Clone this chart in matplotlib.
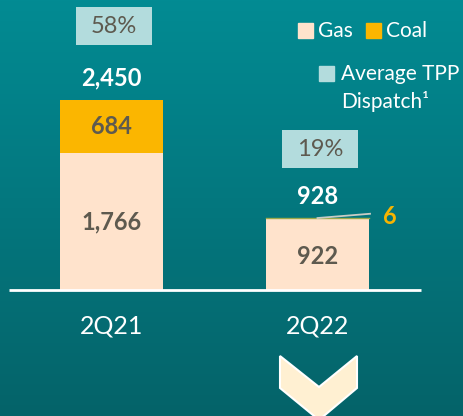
import numpy as np
import matplotlib.pyplot as plt
from matplotlib.patches import Rectangle, Polygon

# data
quarters = ["2Q21", "2Q22"]
gas = [1766, 922]
coal = [684, 6]
totals = [2450, 928]
dispatch = ["58%", "19%"]

GAS_COLOR = "#FFE3CC"
COAL_COLOR = "#FBB600"
BOX_COLOR = "#B3DCDD"
DARK_TEXT = "#5E5A4F"
W, H = 464, 416

plt.rcParams['font.family'] = ['Lato', 'DejaVu Sans']

fig = plt.figure(figsize=(W / 100, H / 100), dpi=100)

# background gradient
bg = fig.add_axes([0, 0, 1, 1])
top = np.array([0x02, 0x8B, 0x93]) / 255
bottom = np.array([0x05, 0x63, 0x69]) / 255
t = np.linspace(0, 1, 256)[:, None]
grad = top * (1 - t) + bottom * t
bg.imshow(grad[:, None, :], aspect='auto', extent=[0, 1, 0, 1])
bg.set_axis_off()

# main axes: value scale so that 2,450 spans 190 px
units_per_px = 2450 / 190
ax = fig.add_axes([0, 0, 1, 1])
ax.patch.set_alpha(0)
ax.set_xlim(-111.5 / 206, (W - 111.5) / 206)
ax.set_ylim(-(H - 290) * units_per_px, 290 * units_per_px)
ax.set_axis_off()

x = np.arange(len(quarters))
ax.bar(x, gas, width=0.5, color=GAS_COLOR, zorder=2)
ax.bar(x, coal, bottom=gas, width=0.5, color=COAL_COLOR, zorder=2)
ax.plot([0.75, 1.25], [totals[1], totals[1]], color="#9CA84A", lw=1, zorder=3)

# baseline
ax.plot([-0.5, 1.502], [0, 0], color="white", lw=2, zorder=3, solid_capstyle='butt')

bold = dict(fontsize=17, fontweight='bold', ha='center', va='center')
# segment labels
ax.text(x[0], gas[0] / 2, f"{gas[0]:,}", color=DARK_TEXT, **bold)
ax.text(x[0], gas[0] + coal[0] / 2, f"{coal[0]:,}", color=DARK_TEXT, **bold)
ax.text(x[1], gas[1] / 2 - 30, f"{gas[1]:,}", color=DARK_TEXT, **bold)
# totals
ax.text(x[0], totals[0] + 280, f"{totals[0]:,}", color="white", **bold)
ax.text(x[1], totals[1] + 280, f"{totals[1]:,}", color="white", **bold)
# small coal value with leader line
ax.plot([x[1], x[1] + 0.255], [totals[1], totals[1] + 55], color="#C9CCC4", lw=1.3, zorder=4)
ax.text(x[1] + 0.35, totals[1] + 25, f"{coal[1]}", color="#F7B400", **bold)

# average TPP dispatch boxes
box_bottoms = [totals[0] + 709, totals[1] + 645]
box_h = 38 * units_per_px
for xi, yb, label in zip(x, box_bottoms, dispatch):
    ax.add_patch(Rectangle((xi + 0.012 - 0.1845, yb), 0.369, box_h,
                           facecolor=BOX_COLOR, edgecolor='none', zorder=2))
    ax.text(xi + 0.012, yb + box_h / 2, label, color=DARK_TEXT, fontsize=17,
            ha='center', va='center', zorder=3)

# category labels
for xi, q in zip(x, quarters):
    ax.text(xi, -36 * units_per_px, q, color="white", fontsize=18,
            ha='center', va='center')

# legend (figure pixel coordinates)
def px(xp, yp):
    return xp / W, 1 - yp / H

def legend_square(xp, yp, color, size=15):
    fx, fy = px(xp, yp + size)
    fig.patches.append(Rectangle((fx, fy), size / W, size / H, color=color,
                                 transform=fig.transFigure, figure=fig))

legend_square(298, 23, GAS_COLOR)
fig.text(*px(318, 31), "Gas", color="white", fontsize=15, va='center')
legend_square(366, 23, COAL_COLOR)
fig.text(*px(386, 31), "Coal", color="white", fontsize=15, va='center')
legend_square(319, 66, BOX_COLOR)
fig.text(*px(341, 74), "Average TPP", color="white", fontsize=15, va='center')
fig.text(*px(341, 102), "Dispatch\u00b9", color="white", fontsize=15, va='center')

# chevron
chev = [(280, 356), (319, 387), (357, 356), (357, 388), (319, 420), (280, 388)]
fig.patches.append(Polygon([px(a, b) for a, b in chev], closed=True,
                           facecolor="#FFF0D2", edgecolor="white", lw=1.5,
                           transform=fig.transFigure, figure=fig))

fig.savefig("out.png", dpi=100)
